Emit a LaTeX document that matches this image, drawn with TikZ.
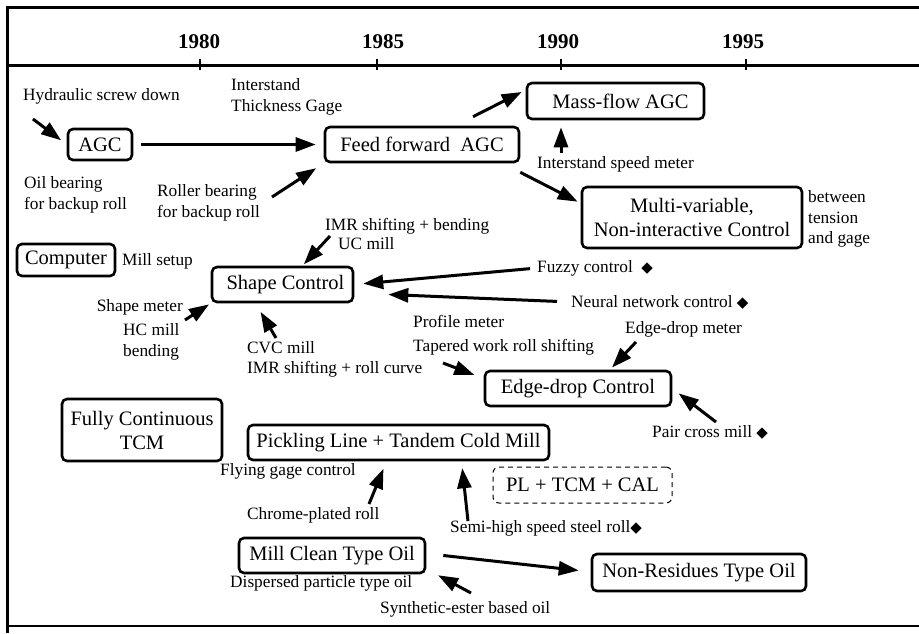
\documentclass[tikz,border=0pt]{standalone}
\usepackage{fontspec}
\setmainfont{Liberation Serif}
\newfontfamily\symfont{DejaVu Sans}
\usetikzlibrary{arrows.meta}
\newcommand{\dia}{{\symfont\fontsize{15}{15}\selectfont ◆}}
\begin{document}
\begin{tikzpicture}[x=1pt,y=-1pt,
  box/.style={draw,line width=2.6pt,rounded corners=5pt,inner sep=0pt,align=center,font=\fontsize{20.5}{24}\selectfont},
  dbox/.style={draw,line width=1pt,dash pattern=on 5pt off 4pt,rounded corners=6pt,inner sep=0pt,align=center,font=\fontsize{20.5}{24}\selectfont},
  lbl/.style={inner sep=0pt,align=left,anchor=west,font=\fontsize{17.3}{20.5}\selectfont},
  year/.style={inner sep=0pt,font=\bfseries\fontsize{21}{21}\selectfont},
  arr/.style={line width=3pt,-{Triangle[length=20pt,width=14pt]}},
  frame/.style={line width=3pt},
  tick/.style={line width=2.5pt}]
\useasboundingbox (0,0) rectangle (919,633);
% frame
\draw[frame] (919,7) -- (7,7) -- (7,633);
\draw[frame] (7,65) -- (919,65);
\draw[line width=2.5pt] (7,626) -- (919,626);
% time axis
\foreach \x in {200,377,561,746} \draw[tick] (\x,59) -- (\x,70);
\node[year] (y1980) at (199,42) {1980};
\node[year] (y1985) at (383,42) {1985};
\node[year] (y1990) at (558,42) {1990};
\node[year] (y1995) at (743,42) {1995};
% boxes
\node[box,minimum width=64pt,minimum height=31pt] (agc) at (100,144.5) {AGC};
\node[box,minimum width=194pt,minimum height=35pt] (ff) at (422,144.5) {Feed forward\ \ AGC};
\node[box,minimum width=177pt,minimum height=36pt] (mass) at (615.5,101) {\hspace{10pt}Mass-flow AGC};
\node[box,minimum width=220pt,minimum height=61pt] (multi) at (692,217.5) {Multi-variable,\\Non-interactive Control};
\node[box,minimum width=98pt,minimum height=32pt] (comp) at (66,260) {Computer};
\node[box,minimum width=141pt,minimum height=35pt] (shape) at (282.5,284.5) {\hspace{6pt}Shape Control};
\node[box,minimum width=186pt,minimum height=35pt] (edge) at (578,388.5) {Edge-drop Control};
\node[box,minimum width=160pt,minimum height=62pt] (fully) at (142,430) {Fully Continuous\\TCM};
\node[box,minimum width=301pt,minimum height=35pt] (pickling) at (398.5,442.5) {Pickling Line + Tandem Cold Mill};
\node[dbox,minimum width=179pt,minimum height=36pt] (pl) at (582.5,485) {PL + TCM + CAL};
\node[box,minimum width=186pt,minimum height=35pt] (millclean) at (332,555.5) {Mill Clean Type Oil};
\node[box,minimum width=214pt,minimum height=37pt] (nonres) at (699,572.5) {Non-Residues Type Oil};
% labels
\node[lbl] (hyd) at (23,96) {Hydraulic screw down};
\node[lbl] (itg) at (231,97) {Interstand\\Thickness Gage};
\node[lbl] (oil) at (24,195) {Oil bearing\\for backup roll};
\node[lbl] (rol) at (157,203) {Roller bearing\\for backup roll};
\node[lbl] (ism) at (537,164) {Interstand speed meter};
\node[lbl] (btg) at (808,219) {between\\tension\\and gage};
\node[lbl] (imrb) at (325,226) {IMR shifting + bending};
\node[lbl] (uc) at (338,244) {UC mill};
\node[lbl] (mset) at (122,261) {Mill setup};
\node[lbl,anchor=east] (smeter) at (183,307) {Shape meter};
\node[lbl] (hc) at (123,342) {HC mill\\bending};
\node[lbl] (cvc) at (247,359.5) {CVC mill\\IMR shifting + roll curve};
\node[lbl] (fuzzy) at (537,268) {Fuzzy control\ \ \dia};
\node[lbl] (neural) at (571,302) {Neural network control \dia};
\node[lbl] (prof) at (413,321) {Profile meter};
\node[lbl] (taper) at (413,347) {Tapered work roll shifting};
\node[lbl] (edm) at (625,329) {Edge-drop meter};
\node[lbl] (pcm) at (652,432) {Pair cross mill \dia};
\node[lbl] (fgc) at (220,471) {Flying gage control};
\node[lbl] (crp) at (247,515) {Chrome-plated roll};
\node[lbl] (shs) at (450,528) {Semi-high speed steel roll\dia};
\node[lbl] (dpo) at (230,583) {Dispersed particle type oil};
\node[lbl] (seo) at (380,609) {Synthetic-ester based oil};
% connectors
\coordinate (hydT) at (33,119);
\draw[arr,shorten >=7pt] (hydT) -- (agc.west);
\draw[arr,shorten <=8pt,shorten >=8pt] (agc) -- (ff);
\coordinate (rolT) at (272,197);
\draw[arr,shorten >=9pt] (rolT) -- (ff.south west);
\draw[arr] ([xshift=51pt,yshift=9pt]ff.north) -- ([xshift=-4pt,yshift=9pt]mass.west);
\coordinate (ismT) at (561,153);
\draw[arr,shorten >=7pt] (ismT) -- (ismT |- mass.south);
\draw[arr] ([yshift=-9pt]ff.south east) -- ([xshift=-3pt,yshift=-16pt]multi.north west);
\coordinate (imrT) at (330,236);
\draw[arr,shorten >=2pt] (imrT) -- ([xshift=20pt]shape.north);
\coordinate (smT) at (185,320);
\draw[arr,shorten >=2pt] (smT) -- (shape.south west);
\coordinate (cvcT) at (276,338);
\draw[arr,shorten >=10pt] (cvcT) -- ([xshift=-27pt]shape.south);
\draw[arr,shorten <=7pt,shorten >=9pt] (fuzzy.west) -- (shape.east);
\draw[arr,shorten <=14pt] (neural.west) -- ([xshift=34pt,yshift=-10pt]shape.east);
\coordinate (tapT) at (443,363);
\draw[arr,shorten >=10pt] (tapT) -- ([yshift=10pt]edge.west);
\coordinate (edmT) at (636,342);
\draw[arr,shorten >=3pt] (edmT) -- ([xshift=32pt]edge.north);
\coordinate (pcmT) at (716,422);
\draw[arr,shorten >=8pt] (pcmT) -- (edge.east);
\coordinate (crpT) at (369,504);
\draw[arr,shorten >=8pt] (crpT) -- ([xshift=-12pt]pickling.south);
\coordinate (shsT) at (468,521);
\draw[arr,shorten >=7pt] (shsT) -- ([xshift=63pt]pickling.south);
\draw[arr] ([xshift=17pt]millclean.east) -- ([xshift=-12pt,yshift=2pt]nonres.west);
\coordinate (seoT) at (471,593);
\draw[arr,shorten >=2pt] (seoT) -- ([xshift=10pt]millclean.south east);
\end{tikzpicture}
\end{document}
